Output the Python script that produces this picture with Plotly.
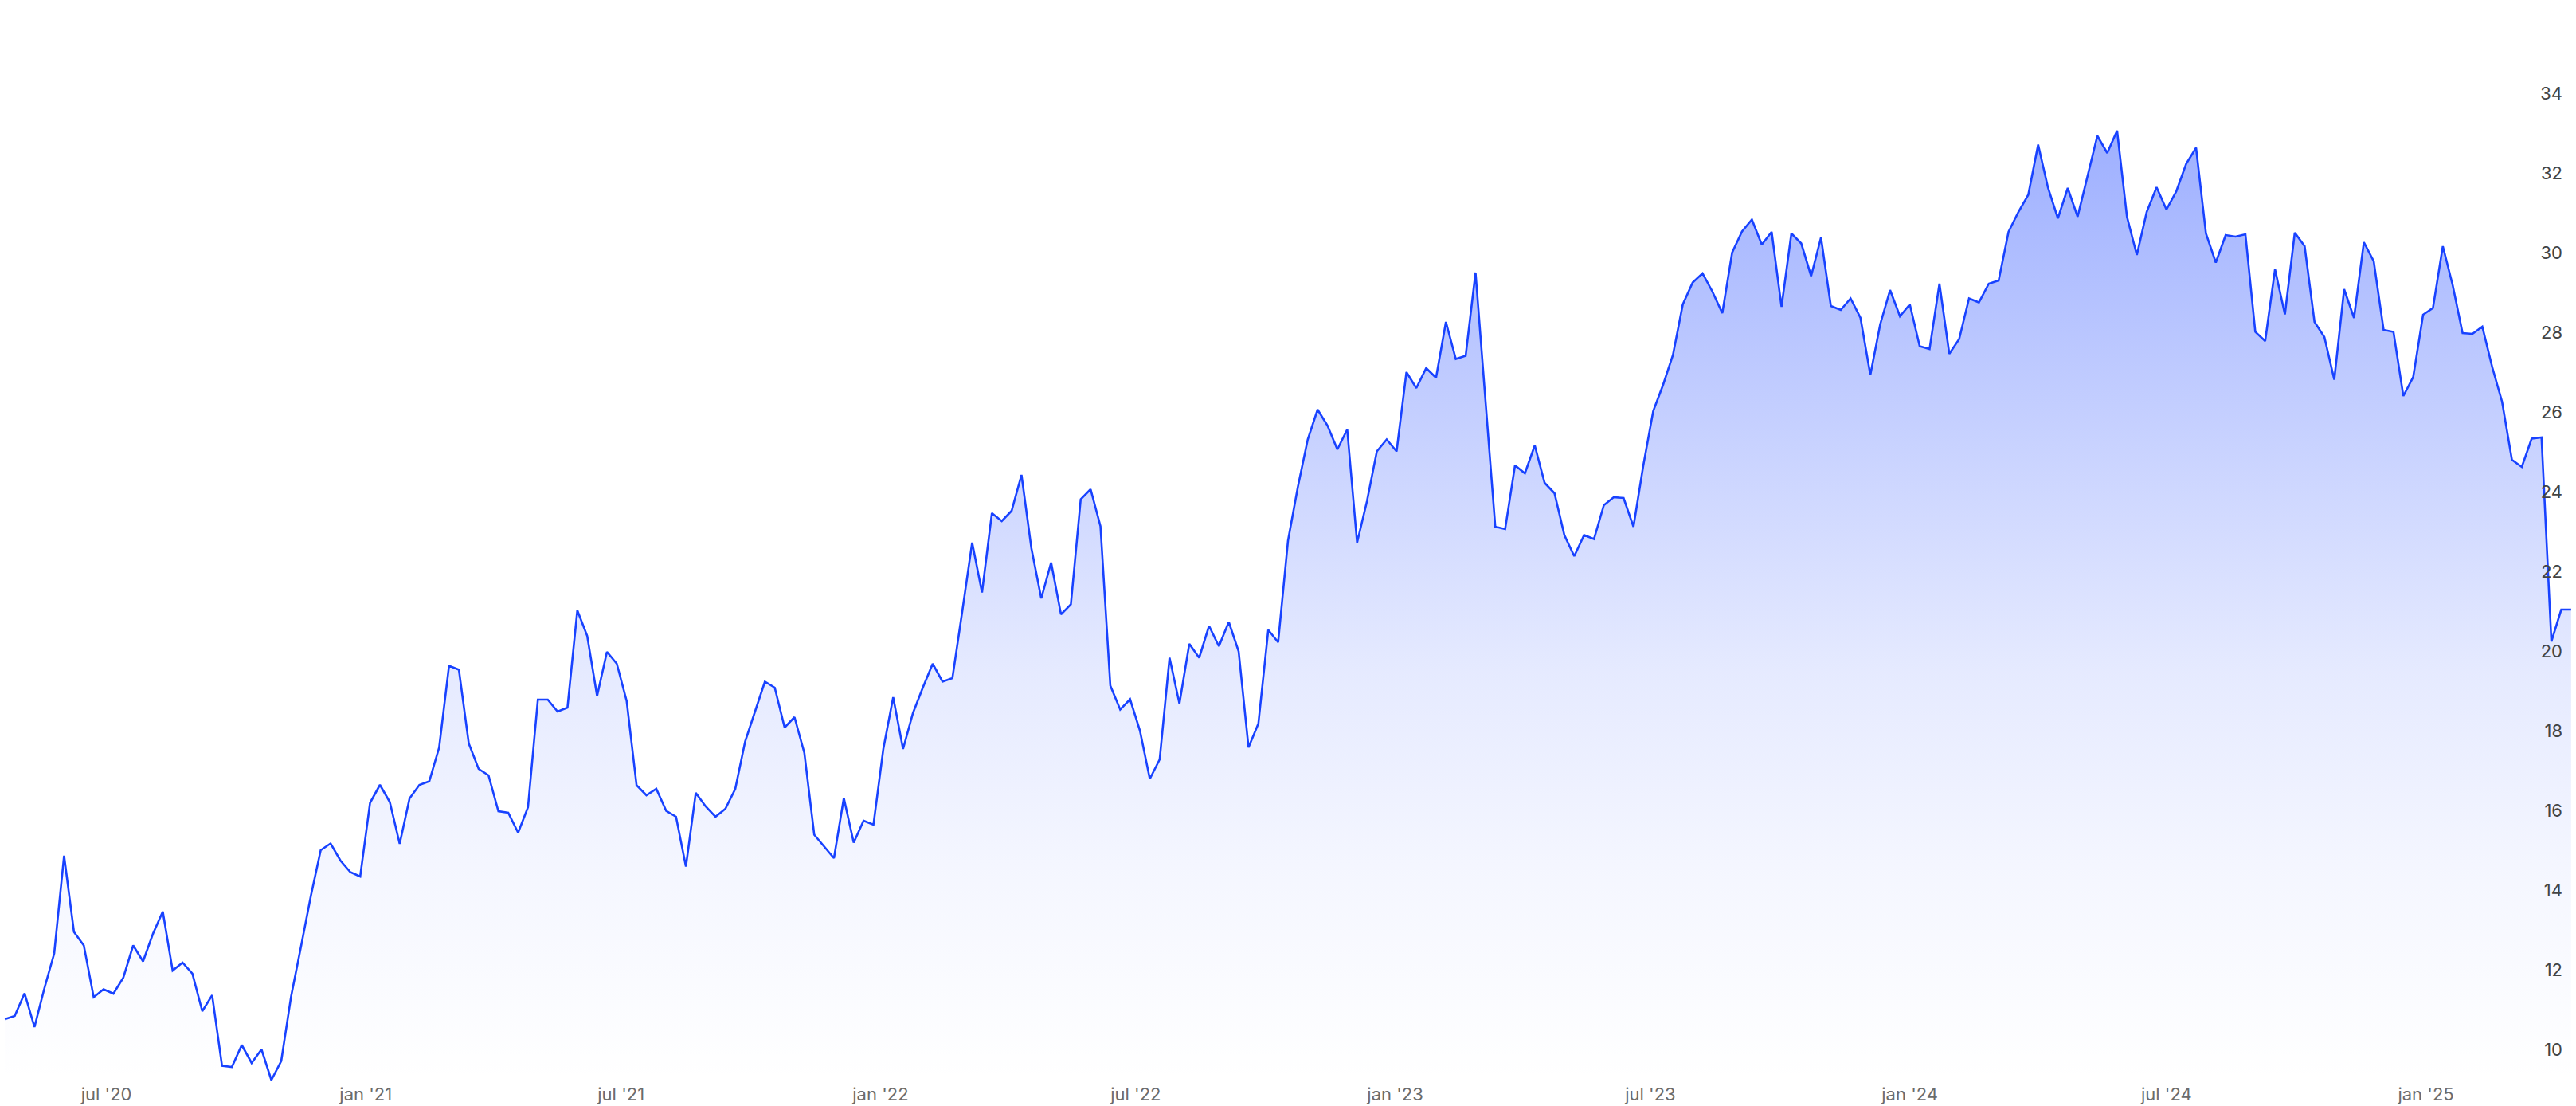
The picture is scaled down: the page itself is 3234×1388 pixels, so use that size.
import pandas as pd
import plotly.graph_objects as go

# Weekly closing values
start_date = "2020-04-20"
values_2020_21 = [
    10.77, 10.85, 11.42, 10.57, 11.54, 12.42, 14.87, 12.96, 12.62, 11.32,
    11.52, 11.41, 11.81, 12.62, 12.22, 12.91, 13.47, 11.99, 12.19, 11.91,
    10.97, 11.37, 9.60, 9.57, 10.12, 9.67, 10.01, 9.24, 9.72, 11.34,
    12.59, 13.86, 15.01, 15.18, 14.75, 14.46, 14.35, 16.20, 16.65, 16.22,
    15.17, 16.31, 16.65, 16.74, 17.59,
]
values_2021_22 = [
    19.64, 19.54, 17.69, 17.05, 16.89, 15.99, 15.95, 15.45, 16.09, 18.79,
    18.79, 18.49, 18.59, 21.03, 20.39, 18.88, 19.99, 19.69, 18.75, 16.64,
    16.39, 16.55, 16.00, 15.85, 14.60, 16.45, 16.11, 15.85, 16.05, 16.55,
    17.74, 18.49, 19.24, 19.09, 18.09, 18.35, 17.45, 15.40, 15.10, 14.81,
    16.32,
]
values_2022 = [
    15.20, 15.75, 15.65, 17.55, 18.85, 17.55, 18.45, 19.09, 19.69, 19.24,
    19.33, 21.01, 22.73, 21.48, 23.47, 23.27, 23.53, 24.43, 22.59, 21.33,
    22.23, 20.93, 21.18, 23.82, 24.07, 23.14, 19.14, 18.54, 18.80, 18.01,
    16.80, 17.29, 19.84, 18.69, 20.19, 19.84, 20.64, 20.13, 20.74, 20.00,
    17.59,
]
values_2022_23 = [
    18.19, 20.54, 20.23, 22.78, 24.13, 25.32, 26.07, 25.67, 25.07, 25.57,
    22.73, 23.77, 25.02, 25.32, 25.02, 27.01, 26.61, 27.11, 26.87, 28.27,
    27.34, 27.42,
]
values_2023 = [
    29.51, 26.30, 23.13, 23.07, 24.67, 24.47, 25.17, 24.23, 23.97, 22.92,
    22.39, 22.92, 22.82, 23.67, 23.87, 23.85, 23.13, 24.67, 26.03, 26.69,
    27.44, 28.71, 29.26, 29.49, 29.03, 28.49, 30.01, 30.54, 30.84, 30.21,
    30.53, 28.65, 30.49, 30.24, 29.42, 30.39, 28.67, 28.57, 28.86, 28.37,
    26.94,
]
values_2024 = [
    28.21, 29.07, 28.41, 28.71, 27.66, 27.59, 29.23, 27.47, 27.84, 28.86,
    28.76, 29.23, 29.31, 30.53, 31.03, 31.46, 32.72, 31.64, 30.87, 31.63,
    30.91, 31.93, 32.94, 32.51, 33.07, 30.91, 29.95, 31.03, 31.65, 31.09,
    31.55, 32.24, 32.64, 30.49, 29.76, 30.45, 30.41, 30.47, 28.02, 27.79,
    29.59, 28.46,
]
values_2024_25 = [
    30.51, 30.17, 28.27, 27.89, 26.82, 29.09, 28.37, 30.27, 29.79, 28.07,
    28.02, 26.41, 26.89, 28.45, 28.62, 30.17, 29.19, 27.99, 27.97, 28.15,
    27.14, 26.27, 24.81, 24.63, 25.34, 25.37, 20.25, 21.05, 21.05,
]

values = (values_2020_21 + values_2021_22 + values_2022 + values_2022_23
          + values_2023 + values_2024 + values_2024_25)
dates = pd.date_range(start_date, periods=len(values), freq="7D")

x_tick_vals = ["2020-07-01", "2021-01-01", "2021-07-01", "2022-01-01", "2022-07-01",
               "2023-01-01", "2023-07-01", "2024-01-01", "2024-07-01", "2025-01-01"]
x_tick_text = ["jul '20", "jan '21", "jul '21", "jan '22", "jul '22",
               "jan '23", "jul '23", "jan '24", "jul '24", "jan '25"]
y_tick_vals = [10, 12, 14, 16, 18, 20, 22, 24, 26, 28, 30, 32, 34]

LINE = "rgb(24,66,255)"
y_lo, y_hi = 9.19, 36.35
grad_top = max(values)

fig = go.Figure()
fig.add_trace(go.Scatter(
    x=dates, y=values, mode="lines",
    line=dict(color=LINE, width=2.6),
    fill="tozeroy",
    fillgradient=dict(
        type="vertical",
        start=y_lo, stop=grad_top,
        colorscale=[
            [0.0, "rgba(24,66,255,0.0)"],
            [0.22, "rgba(24,66,255,0.045)"],
            [0.43, "rgba(24,66,255,0.11)"],
            [0.64, "rgba(24,66,255,0.22)"],
            [1.0, "rgba(24,66,255,0.42)"],
        ],
    ),
    hoverinfo="skip",
))

pad = pd.Timedelta(days=3.45)
fig.update_layout(
    width=3234, height=1388,
    margin=dict(l=0, r=0, t=0, b=30),
    paper_bgcolor="white", plot_bgcolor="white",
    showlegend=False,
    font=dict(family="Inter, Roboto, sans-serif", size=22, color="#6b6b6b"),
    xaxis=dict(
        range=[dates[0] - pad, dates[-1] + pad],
        tickvals=x_tick_vals, ticktext=x_tick_text,
        showgrid=False, zeroline=False, showline=False, ticks="",
    ),
    yaxis=dict(
        range=[y_lo, y_hi], side="right",
        tickvals=y_tick_vals, ticklabelposition="inside",
        ticklabelstandoff=14,
        showgrid=False, zeroline=False, showline=False, ticks="",
    ),
)

fig.write_html(
    "out.html",
    config={"displayModeBar": False},
    post_script="document.body.style.margin='0';document.body.style.overflow='hidden';",
)
